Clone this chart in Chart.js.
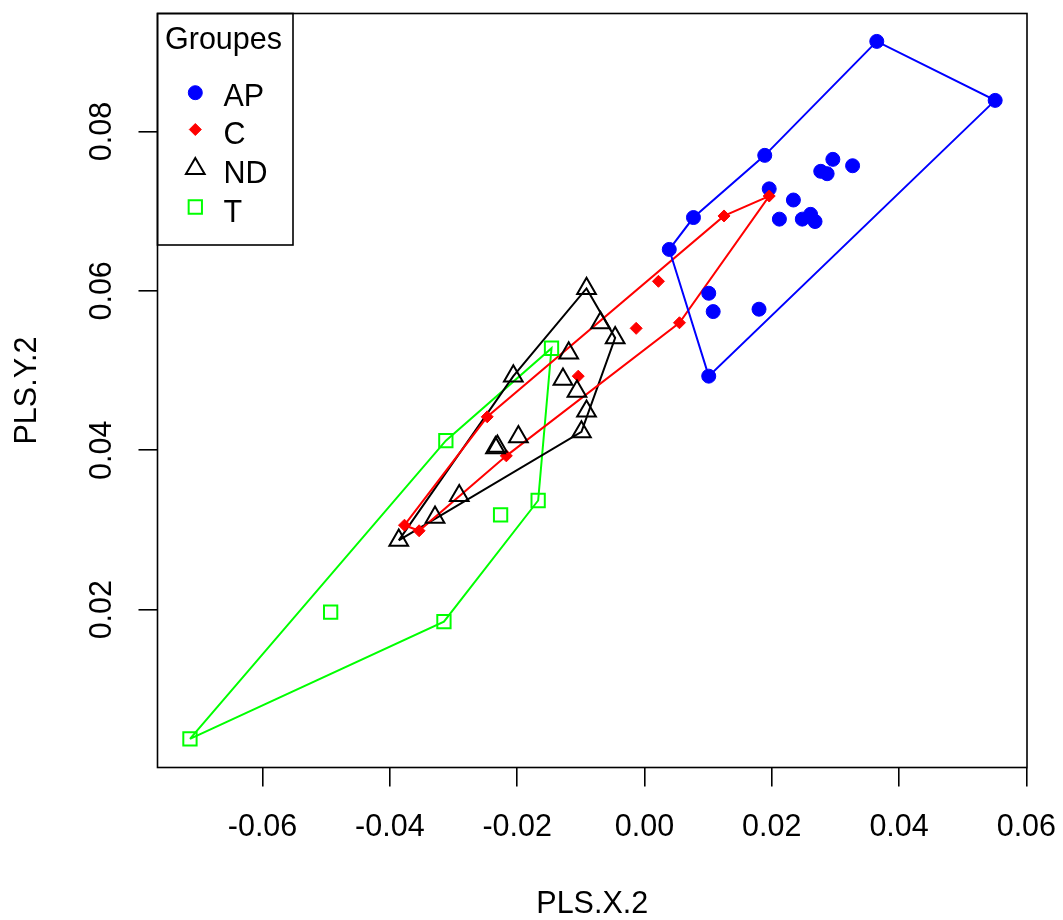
<!DOCTYPE html>
<html><head><meta charset="utf-8">
<style>html,body{margin:0;padding:0;background:#fff}canvas{display:block}</style>
<script src="https://cdn.jsdelivr.net/npm/chart.js@4.4.0/dist/chart.umd.min.js"></script>
</head><body>
<canvas id="c" width="1063" height="920"></canvas>
<script>
// ---- data ----
const groups = ['AP', 'C', 'ND', 'T'];
const legendTitle = 'Groupes';
const xTitle = 'PLS.X.2';
const yTitle = 'PLS.Y.2';

const apX = [0.0365, 0.0551, 0.0189, 0.0296, 0.0327, 0.0277, 0.0287, 0.0196, 0.0234, 0.0077, 0.0212, 0.0248, 0.0261, 0.0268, 0.0039, 0.0101, 0.0108, 0.0180, 0.0101];
const apY = [0.0913, 0.0839, 0.0770, 0.0765, 0.0757, 0.0750, 0.0747, 0.0728, 0.0714, 0.0692, 0.0690, 0.0690, 0.0696, 0.0687, 0.0652, 0.0597, 0.0574, 0.0577, 0.0493];
const apHull = [14, 9, 2, 0, 1, 18, 14];

const cX = [0.0196, 0.0125, 0.0022, 0.0055, -0.0013, -0.0104, -0.0247, -0.0217, -0.0377, -0.0354];
const cY = [0.0719, 0.0694, 0.0612, 0.0560, 0.0553, 0.0493, 0.0442, 0.0393, 0.0306, 0.0299];
const cHull = [8, 6, 1, 0, 3, 7, 9, 8];

const ndX = [-0.0091, -0.0069, -0.0046, -0.0119, -0.0128, -0.0106, -0.0091, -0.0099, -0.0206, -0.0198, -0.0231, -0.0234, -0.0291, -0.0329, -0.0386];
const ndY = [0.0603, 0.0560, 0.0541, 0.0522, 0.0489, 0.0474, 0.0449, 0.0423, 0.0493, 0.0417, 0.0405, 0.0403, 0.0343, 0.0316, 0.0287];
const ndHull = [14, 8, 0, 2, 7, 14];

const tX = [-0.0146, -0.0312, -0.0226, -0.0167, -0.0493, -0.0315, -0.0714];
const tY = [0.0528, 0.0412, 0.0319, 0.0337, 0.0197, 0.0185, 0.0038];
const tHull = [6, 1, 0, 3, 5, 6];

const xTicks = [-0.06, -0.04, -0.02, 0.00, 0.02, 0.04, 0.06];
const yTicks = [0.02, 0.04, 0.06, 0.08];
const xLimits = [-0.0765, 0.0601];
const yLimits = [0.0002, 0.0948];

// ---- styling ----
const FONT = '"Liberation Sans", Arial, Helvetica, sans-serif';
const FS = 30.5;
const styles = {
  AP: {color: '#0000ff', pointStyle: 'circle',   radius: 7,    fill: '#0000ff', bw: 1},
  C:  {color: '#ff0000', pointStyle: 'rectRot',  radius: 6,    fill: '#ff0000', bw: 1},
  ND: {color: '#000000', pointStyle: 'triangle', radius: 10.8, fill: 'rgba(0,0,0,0)', bw: 2},
  T:  {color: '#00ff00', pointStyle: 'rect',     radius: 9.4,  fill: 'rgba(0,0,0,0)', bw: 2}
};
const series = {
  AP: [apX, apY, apHull],
  C:  [cX, cY, cHull],
  ND: [ndX, ndY, ndHull],
  T:  [tX, tY, tHull]
};

function pts(xs, ys) { return xs.map((x, i) => ({x: x, y: ys[i]})); }
function hullPts(xs, ys, idx) { return idx.map(i => ({x: xs[i], y: ys[i]})); }

const datasets = [];
groups.forEach((g, gi) => {
  const [xs, ys, hi] = series[g];
  const s = styles[g];
  datasets.push({
    label: g + ' hull', data: hullPts(xs, ys, hi), showLine: true,
    borderColor: s.color, borderWidth: 2, pointRadius: 0, fill: false,
    tension: 0, order: 20 + gi
  });
  datasets.push({
    label: g, data: pts(xs, ys), showLine: false,
    pointStyle: s.pointStyle, pointRadius: s.radius, pointBackgroundColor: s.fill,
    pointBorderColor: s.color, pointBorderWidth: s.bw, order: 10 - gi
  });
});

const boxPlugin = {
  id: 'rbox',
  afterDraw(chart) {
    const ctx = chart.ctx, ca = chart.chartArea;
    ctx.save();
    ctx.strokeStyle = '#000';
    ctx.lineWidth = 1.6;
    ctx.strokeRect(ca.left, ca.top, ca.right - ca.left, ca.bottom - ca.top);
    // legend box
    const lx = ca.left, ly = ca.top, lw = 293 - ca.left, lh = 245 - ca.top;
    ctx.strokeRect(lx, ly, lw, lh);
    ctx.fillStyle = '#000';
    ctx.font = FS + 'px ' + FONT;
    ctx.textBaseline = 'alphabetic';
    ctx.textAlign = 'left';
    ctx.fillText(legendTitle, 165, 48.5);
    const symY = [92.7, 129.5, 168.7, 207];
    const txtY = [106, 144.3, 183.2, 221.7];
    groups.forEach((g, i) => {
      const s = styles[g];
      ctx.save();
      ctx.fillStyle = s.fill;
      ctx.strokeStyle = s.color;
      ctx.lineWidth = s.bw;
      Chart.helpers.drawPoint(ctx, {pointStyle: s.pointStyle, radius: s.radius, borderWidth: s.bw, rotation: 0}, 195.3, symY[i]);
      ctx.restore();
      ctx.fillStyle = '#000';
      ctx.fillText(g, 223.5, txtY[i]);
    });
    ctx.restore();
  }
};

new Chart(document.getElementById('c'), {
  type: 'scatter',
  data: {datasets: datasets},
  options: {
    responsive: false,
    animation: false,
    devicePixelRatio: 1,
    events: [],
    layout: {padding: {top: 13.5, right: 36, left: 0, bottom: 0}},
    plugins: {legend: {display: false}, tooltip: {enabled: false}},
    scales: {
      x: {
        type: 'linear', position: 'bottom', min: xLimits[0], max: xLimits[1],
        afterBuildTicks: s => { s.ticks = xTicks.map(v => ({value: v})); },
        afterFit: s => { s.height = 152.5; s.paddingLeft = 0; s.paddingRight = 0; },
        ticks: {
          callback: v => Number(v).toFixed(2), autoSkip: false, maxRotation: 0, minRotation: 0,
          font: {family: FONT, size: FS, lineHeight: 1}, color: '#000', padding: 26
        },
        grid: {drawOnChartArea: false, drawTicks: true, tickLength: 19, color: '#000', lineWidth: 1.6},
        border: {display: false},
        title: {display: true, text: xTitle, color: '#000', font: {family: FONT, size: FS, lineHeight: 1}, padding: {top: 0, bottom: 0}}
      },
      y: {
        type: 'linear', position: 'left', min: yLimits[0], max: yLimits[1],
        afterBuildTicks: s => { s.ticks = yTicks.map(v => ({value: v})); },
        afterFit: s => { s.width = 157.5; s.paddingTop = 0; s.paddingBottom = 0; },
        ticks: {
          callback: v => Number(v).toFixed(2), autoSkip: false, minRotation: 90, maxRotation: 90,
          crossAlign: 'center',
          font: {family: FONT, size: FS, lineHeight: 1}, color: '#000', padding: 6
        },
        grid: {drawOnChartArea: false, drawTicks: true, tickLength: 19, color: '#000', lineWidth: 1.6},
        border: {display: false},
        title: {display: true, text: yTitle, color: '#000', font: {family: FONT, size: FS, lineHeight: 1}, padding: {top: 12, bottom: 0}}
      }
    }
  },
  plugins: [boxPlugin]
});
</script>
</body></html>
